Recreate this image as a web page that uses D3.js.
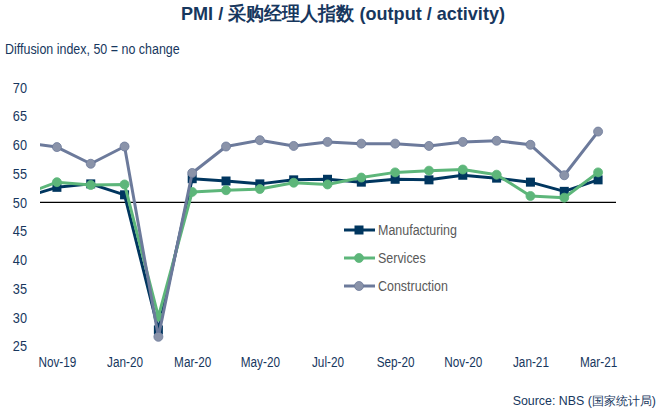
<!DOCTYPE html>
<html>
<head>
<meta charset="utf-8">
<script src="https://cdn.jsdelivr.net/npm/d3@7"></script>
<style>
  body { margin: 0; background: #fff; }
  svg { display: block; }
  text { font-family: "Liberation Sans", Arial, sans-serif; }
</style>
</head>
<body>
<div id="chart"></div>
<script>
// months incl. Oct-19, which sits just left of the plot area and is clipped
const months = ["Oct-19", "Nov-19", "Dec-19", "Jan-20", "Feb-20", "Mar-20", "Apr-20", "May-20", "Jun-20",
  "Jul-20", "Aug-20", "Sep-20", "Oct-20", "Nov-20", "Dec-20", "Jan-21", "Feb-21", "Mar-21"];
const tickMonths = ["Nov-19", "Jan-20", "Mar-20", "May-20", "Jul-20", "Sep-20", "Nov-20", "Jan-21", "Mar-21"];
const yTicks = [25, 30, 35, 40, 45, 50, 55, 60, 65, 70];

const manufacturing = [50.8, 52.6, 53.2, 51.3, 27.8, 54.1, 53.7, 53.2, 53.9, 54.0, 53.5, 54.0, 53.9, 54.7, 54.2, 53.5, 51.9, 53.9];
const services = [51.3, 53.5, 53.0, 53.1, 30.1, 51.8, 52.1, 52.3, 53.4, 53.1, 54.3, 55.2, 55.5, 55.7, 54.8, 51.1, 50.8, 55.2];
const construction = [60.4, 59.6, 56.7, 59.7, 26.6, 55.1, 59.7, 60.8, 59.8, 60.5, 60.2, 60.2, 59.8, 60.5, 60.7, 60.0, 54.7, 62.3];

const seriesNames = ["Manufacturing", "Services", "Construction"];

const colors = {
  manufacturing: "#00365f",
  services: "#5db67a",
  construction: "#6c7a9b",
  constructionMarker: "#8a93a9",
  text: "#17375e",
  legendText: "#595959",
};

const width = 660, height = 412;
const plot = { left: 40, right: 616 };

const svg = d3.select("#chart").append("svg")
  .attr("width", width).attr("height", height);

// the original uses a narrow font, squeeze the text to get close
function condense(sel, factor) {
  sel.each(function () {
    const w = this.getComputedTextLength();
    d3.select(this)
      .attr("textLength", w * factor)
      .attr("lengthAdjust", "spacingAndGlyphs");
  });
}

// one band per shown month, Oct-19 is one step to the left
const step = (615 - plot.left) / 17;
const x = d3.scalePoint()
  .domain(months)
  .range([plot.left + step / 2 - step, 615 - step / 2]);

const y = d3.scaleLinear().domain([25, 70]).range([346, 87.3]);

svg.append("defs").append("clipPath").attr("id", "plotClip")
  .append("rect")
  .attr("x", plot.left).attr("y", 0)
  .attr("width", plot.right - plot.left).attr("height", height);

// title and notes
svg.append("text")
  .attr("x", 343).attr("y", 20)
  .attr("text-anchor", "middle")
  .attr("font-size", 19).attr("font-weight", "bold")
  .attr("fill", colors.text)
  .text("PMI / 采购经理人指数 (output / activity)")
  .call(condense, 0.95);

svg.append("text")
  .attr("x", 5).attr("y", 54)
  .attr("font-size", 14)
  .attr("fill", colors.text)
  .text("Diffusion index, 50 = no change")
  .call(condense, 0.89);

svg.append("text")
  .attr("x", 656).attr("y", 405)
  .attr("text-anchor", "end")
  .attr("font-size", 12.4)
  .attr("fill", colors.text)
  .text("Source: NBS (国家统计局)");

// y axis labels
const yAxis = svg.append("g")
  .attr("transform", `translate(${plot.left - 13},0)`)
  .call(d3.axisLeft(y).tickValues(yTicks).tickSize(0).tickPadding(0));
yAxis.select(".domain").remove();
yAxis.selectAll("text")
  .attr("font-size", 15)
  .attr("font-family", null)
  .attr("fill", colors.text)
  .call(condense, 0.85);

// x axis labels
const xAxis = svg.append("g")
  .attr("transform", `translate(0,357)`)
  .call(d3.axisBottom(x).tickValues(tickMonths).tickSize(0).tickPadding(0));
xAxis.select(".domain").remove();
xAxis.selectAll("text")
  .attr("font-size", 14)
  .attr("font-family", null)
  .attr("fill", colors.text)
  .call(condense, 0.84);

// 50 reference line
svg.append("line")
  .attr("x1", plot.left).attr("x2", plot.right)
  .attr("y1", y(50)).attr("y2", y(50))
  .attr("stroke", "#000").attr("stroke-width", 1.2);

const line = d3.line().x((d, i) => x(months[i])).y(d => y(d));

const series = [
  { name: seriesNames[0], values: manufacturing, color: colors.manufacturing, marker: "square", fill: colors.manufacturing },
  { name: seriesNames[1], values: services, color: colors.services, marker: "circle", fill: colors.services },
  { name: seriesNames[2], values: construction, color: colors.construction, marker: "circle", fill: colors.constructionMarker },
];

const plotG = svg.append("g").attr("clip-path", "url(#plotClip)");

function drawMarker(g, s, cx, cy) {
  if (s.marker === "square") {
    g.append("rect")
      .attr("x", cx - 4.5).attr("y", cy - 4.5)
      .attr("width", 9).attr("height", 9)
      .attr("fill", s.fill);
  } else {
    g.append("circle")
      .attr("cx", cx).attr("cy", cy).attr("r", 4.5)
      .attr("fill", s.fill)
      .attr("stroke", s.color).attr("stroke-width", 0.8);
  }
}

series.forEach(s => {
  plotG.append("path")
    .datum(s.values)
    .attr("d", line)
    .attr("fill", "none")
    .attr("stroke", s.color)
    .attr("stroke-width", 3)
    .attr("stroke-linejoin", "round");
  const mg = plotG.append("g");
  s.values.forEach((v, i) => {
    if (i === 0) return;
    drawMarker(mg, s, x(months[i]), y(v));
  });
});

// legend
const legend = svg.append("g");
const legendY = [230, 258, 286];
series.forEach((s, i) => {
  const g = legend.append("g");
  g.append("line")
    .attr("x1", 344).attr("x2", 375)
    .attr("y1", legendY[i]).attr("y2", legendY[i])
    .attr("stroke", s.color).attr("stroke-width", 3);
  drawMarker(g, s, 359, legendY[i]);
  g.append("text")
    .attr("x", 378).attr("y", legendY[i] + 5)
    .attr("font-size", 14)
    .attr("fill", colors.legendText)
    .text(s.name)
    .call(condense, 0.89);
});
</script>
</body>
</html>
